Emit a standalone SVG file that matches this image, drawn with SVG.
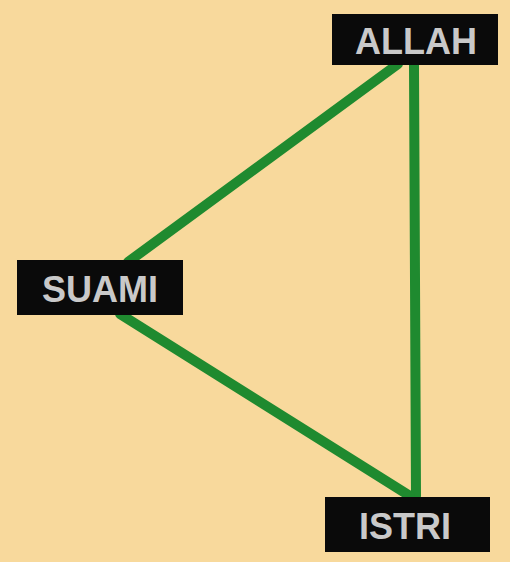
<svg xmlns="http://www.w3.org/2000/svg" width="510" height="562" viewBox="0 0 510 562">
<style>
.box{fill:#0a0a0a}
.lbl{font-family:"Liberation Sans",Arial,sans-serif;font-size:36px;font-weight:bold;fill:#c9c9c9;text-anchor:middle}
.ln{stroke:#1f8a2f;stroke-width:10;stroke-linecap:round;fill:none}
</style>
<rect width="510" height="562" fill="#f8d99c"/>
<g id="connectors">
<line class="ln" x1="398" y1="64" x2="128" y2="262"/>
<line class="ln" x1="414" y1="64" x2="416" y2="496"/>
<line class="ln" x1="120" y1="314" x2="410" y2="496"/>
</g>
<g id="allah">
<rect class="box" x="332" y="14" width="166" height="51"/>
<text class="lbl" x="416" y="54">ALLAH</text>
</g>
<g id="suami">
<rect class="box" x="17" y="260" width="166" height="55"/>
<text class="lbl" x="100" y="302">SUAMI</text>
</g>
<g id="istri">
<rect class="box" x="325" y="497" width="165" height="55"/>
<text class="lbl" x="405" y="539">ISTRI</text>
</g>
</svg>
